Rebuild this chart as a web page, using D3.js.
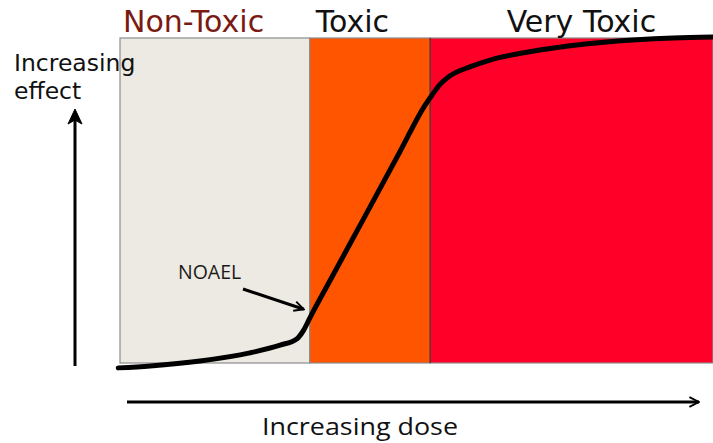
<!DOCTYPE html>
<html><head><meta charset="utf-8">
<script src="https://cdn.jsdelivr.net/npm/d3@7"></script>
<style>body{margin:0;background:#fff;}svg{display:block;}</style>
</head><body>
<script>
// Zones (dose units 0..100)
const zoneNames = ["Non-Toxic", "Toxic", "Very Toxic"];
const zoneStart = [0, 32.0, 52.3];
const zoneEnd = [32.0, 52.3, 100];
const zoneColors = ["#ECEAE2", "#FF5400", "#FF0029"];
const zoneLabelColors = ["#7A1B12", "#111111", "#111111"];

// Dose-response curve
const doseValues = [-0.3, 5.1, 13.5, 21.9, 27.0, 29.8, 31.0, 32.0, 35.4, 41.3, 47.2, 51.4, 52.6, 54.0, 55.6, 59.0, 62.4, 70.8, 82.1, 93.3, 100];
const effectValues = [-1.5, -0.9, 0.6, 3.1, 5.5, 7.4, 10.2, 13.8, 25.3, 45.1, 65.0, 79.2, 82.4, 85.8, 88.3, 91.1, 93.2, 96.3, 98.8, 100, 100.3];

const noael = {dose: 31.5, effect: 15.3, label: "NOAEL"};
const xLabel = "Increasing dose";
const yLabel = ["Increasing", "effect"];

const W = 713, H = 443;
const svg = d3.select("body").append("svg").attr("width", W).attr("height", H);

const x = d3.scaleLinear().domain([0, 100]).range([120, 713]);
const y = d3.scaleLinear().domain([0, 100]).range([363, 38]);

// zones
svg.selectAll("rect.zone").data(zoneNames).enter().append("rect")
  .attr("x", (d, i) => x(zoneStart[i]))
  .attr("y", y(100))
  .attr("width", (d, i) => x(zoneEnd[i]) - x(zoneStart[i]))
  .attr("height", y(0) - y(100))
  .attr("fill", (d, i) => zoneColors[i])
  .attr("stroke", "#8c8c8c").attr("stroke-width", 1.2);
// darker boundary between toxic and very toxic
svg.append("line").attr("x1", x(zoneStart[2])).attr("x2", x(zoneStart[2]))
  .attr("y1", y(100)).attr("y2", y(0)).attr("stroke", "#6a1a10").attr("stroke-width", 1.3);

// zone labels
const labelX = [x(0) + 3, x(32.0) + 6, x(65.2)];
svg.selectAll("text.zone").data(zoneNames).enter().append("text")
  .attr("x", (d, i) => labelX[i])
  .attr("y", 32)
  .attr("font-family", "DejaVu Sans, Verdana, sans-serif")
  .attr("font-size", 30)
  .attr("fill", (d, i) => zoneLabelColors[i])
  .text(d => d);

// curve
const line = d3.line()
  .x((d, i) => x(doseValues[i]))
  .y((d, i) => y(effectValues[i]))
  .curve(d3.curveMonotoneX);
svg.append("path").datum(doseValues)
  .attr("d", line)
  .attr("fill", "none")
  .attr("stroke", "#000")
  .attr("stroke-width", 5)
  .attr("stroke-linecap", "round")
  .attr("stroke-linejoin", "round");

// arrow marker (open chevron)
const defs = svg.append("defs");
defs.append("marker").attr("id", "ah").attr("viewBox", "0 0 10 10")
  .attr("refX", 9).attr("refY", 5).attr("markerWidth", 4).attr("markerHeight", 4)
  .attr("orient", "auto").attr("markerUnits", "strokeWidth")
  .append("path").attr("d", "M1,1 L9,5 L1,9").attr("fill", "none")
  .attr("stroke", "#000").attr("stroke-width", 1.6).attr("stroke-linejoin", "miter");

// horizontal axis arrow
svg.append("line").attr("x1", 127).attr("y1", 402).attr("x2", 699).attr("y2", 402)
  .attr("stroke", "#000").attr("stroke-width", 3).attr("marker-end", "url(#ah)");
// vertical axis arrow
svg.append("line").attr("x1", 75).attr("y1", 366).attr("x2", 75).attr("y2", 116)
  .attr("stroke", "#000").attr("stroke-width", 3);
svg.append("path").attr("d", "M75,109 L82,124 L75,120 L68,124 Z").attr("fill", "#000")
  .attr("stroke", "#000").attr("stroke-width", 1).attr("stroke-linejoin", "round");

// axis labels
svg.append("text").attr("x", 262).attr("y", 435)
  .attr("font-family", "Open Sans, Lato, sans-serif").attr("font-size", 24)
  .attr("fill", "#111").attr("textLength", 196).attr("lengthAdjust", "spacingAndGlyphs")
  .text(xLabel);
svg.selectAll("text.ylab").data(yLabel).enter().append("text")
  .attr("x", 14).attr("y", (d, i) => 71 + i * 28)
  .attr("font-family", "DejaVu Sans, Verdana, sans-serif").attr("font-size", 23.5)
  .attr("fill", "#111").text(d => d);

// NOAEL annotation
svg.append("text").attr("x", 178).attr("y", 279)
  .attr("font-family", "Open Sans, Lato, sans-serif").attr("font-size", 19.5)
  .attr("fill", "#1a1a1a").text(noael.label);
svg.append("line").attr("x1", 243).attr("y1", 289)
  .attr("x2", x(noael.dose) - 3).attr("y2", y(noael.effect) - 4)
  .attr("stroke", "#000").attr("stroke-width", 3).attr("marker-end", "url(#ah)");
</script>
</body></html>
